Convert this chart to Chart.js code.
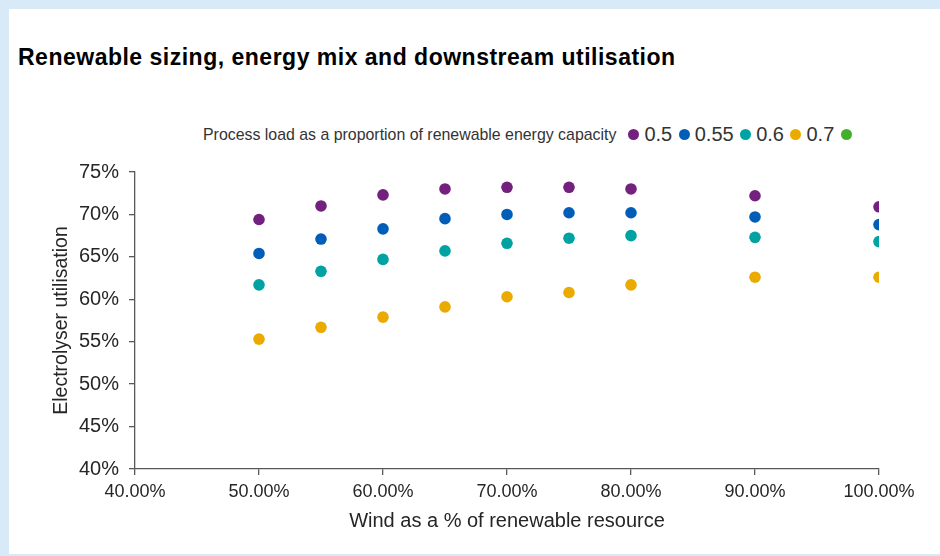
<!DOCTYPE html>
<html>
<head>
<meta charset="utf-8">
<script src="https://cdn.jsdelivr.net/npm/chart.js@4.4.1/dist/chart.umd.min.js"></script>
<style>
  html, body { margin: 0; padding: 0; }
  body { width: 940px; height: 556px; background: #d8e9f8; position: relative; overflow: hidden; font-family: "Liberation Sans", Arial, sans-serif; }
  #panel { position: absolute; left: 9px; top: 9px; width: 931px; height: 545px; background: #ffffff; }
  #title { position: absolute; left: 18px; top: 44px; font-weight: bold; font-size: 23px; color: #000; white-space: nowrap; letter-spacing: 0.5px; }
  #legend { position: absolute; left: 203px; top: 123px; display: flex; align-items: center; white-space: nowrap; color: #333; }
  #legend .cap { font-size: 15.9px; margin-right: 12px; }
  #legend .item { display: flex; align-items: center; }
  #legend .dot { width: 11px; height: 11px; border-radius: 50%; margin-right: 5px; }
  #legend .lab { font-size: 20px; margin-right: 6.5px; }
  #wrap { position: absolute; left: 9px; top: 150px; width: 931px; height: 400px; }
</style>
</head>
<body>
<div id="panel"></div>
<div id="title">Renewable sizing, energy mix and downstream utilisation</div>
<div id="legend"></div>
<div id="wrap"><canvas id="c"></canvas></div>
<script>
// Wind share of the renewable resource (%)
const windShare = [50, 55, 60, 65, 70, 75, 80, 90, 100];

// Electrolyser utilisation (%) for each process load ratio
const load050 = [69.4, 71.0, 72.3, 73.0, 73.2, 73.2, 73.0, 72.2, 70.9];
const load055 = [65.4, 67.1, 68.3, 69.5, 70.0, 70.2, 70.2, 69.7, 68.8];
const load060 = [61.7, 63.3, 64.7, 65.7, 66.6, 67.2, 67.5, 67.3, 66.8];
const load070 = [55.3, 56.7, 57.9, 59.1, 60.3, 60.8, 61.7, 62.6, 62.6];
const loadExtra = [];

const seriesLabels = ['0.5', '0.55', '0.6', '0.7', ''];
const seriesColors = ['#74207f', '#005eb8', '#00a3a1', '#eaaa00', '#43b02a'];
const seriesValues = [load050, load055, load060, load070, loadExtra];

const xTicks = [40, 50, 60, 70, 80, 90, 100];
const yTicks = [40, 45, 50, 55, 60, 65, 70, 75];

const datasets = seriesValues.map((vals, i) => ({
  label: seriesLabels[i],
  data: vals.map((v, j) => ({ x: windShare[j], y: v })),
  backgroundColor: seriesColors[i],
  borderWidth: 0,
  pointRadius: 5.8,
  pointHoverRadius: 5.8
}));

const axisColor = '#595959';
const textColor = '#262626';
const fontFamily = '"Liberation Sans", Arial, sans-serif';

const chart = new Chart(document.getElementById('c'), {
  type: 'scatter',
  data: { datasets },
  options: {
    responsive: true,
    maintainAspectRatio: false,
    animation: false,
    layout: { padding: { left: 40, top: 22, right: 61, bottom: 17 } },
    plugins: { legend: { display: false }, tooltip: { enabled: false } },
    scales: {
      x: {
        type: 'linear',
        min: 40, max: 100,
        afterBuildTicks: s => { s.ticks = xTicks.map(v => ({ value: v })); },
        afterFit: s => { s.height = 64; },
        border: { display: true, color: axisColor, width: 1.3 },
        grid: { display: true, drawOnChartArea: false, drawTicks: true, tickLength: 6, color: axisColor, lineWidth: 1.3 },
        ticks: {
          color: textColor, padding: 6, maxRotation: 0,
          font: { family: fontFamily, size: 18 },
          callback: v => v.toFixed(2) + '%'
        },
        title: {
          display: true, text: 'Wind as a % of renewable resource', color: textColor,
          font: { family: fontFamily, size: 20 }, padding: { top: 0, bottom: 0 }
        }
      },
      y: {
        type: 'linear',
        min: 40, max: 75,
        afterBuildTicks: s => { s.ticks = yTicks.map(v => ({ value: v })); },
        afterFit: s => { s.width = 86; },
        border: { display: true, color: axisColor, width: 1.3 },
        grid: { display: true, drawOnChartArea: false, drawTicks: true, tickLength: 6, color: axisColor, lineWidth: 1.3 },
        ticks: {
          color: textColor, padding: 10,
          font: { family: fontFamily, size: 20 },
          callback: v => v + '%'
        },
        title: {
          display: true, text: 'Electrolyser utilisation', color: textColor,
          font: { family: fontFamily, size: 19.5 }, padding: { top: 1, bottom: 0 }
        }
      }
    }
  }
});

// Legend built from the chart's datasets
const legend = document.getElementById('legend');
const cap = document.createElement('span');
cap.className = 'cap';
cap.textContent = 'Process load as a proportion of renewable energy capacity';
legend.appendChild(cap);
chart.data.datasets.forEach(ds => {
  const item = document.createElement('span');
  item.className = 'item';
  const dot = document.createElement('span');
  dot.className = 'dot';
  dot.style.background = ds.backgroundColor;
  item.appendChild(dot);
  if (ds.label) {
    const lab = document.createElement('span');
    lab.className = 'lab';
    lab.textContent = ds.label;
    item.appendChild(lab);
  }
  legend.appendChild(item);
});
</script>
</body>
</html>
